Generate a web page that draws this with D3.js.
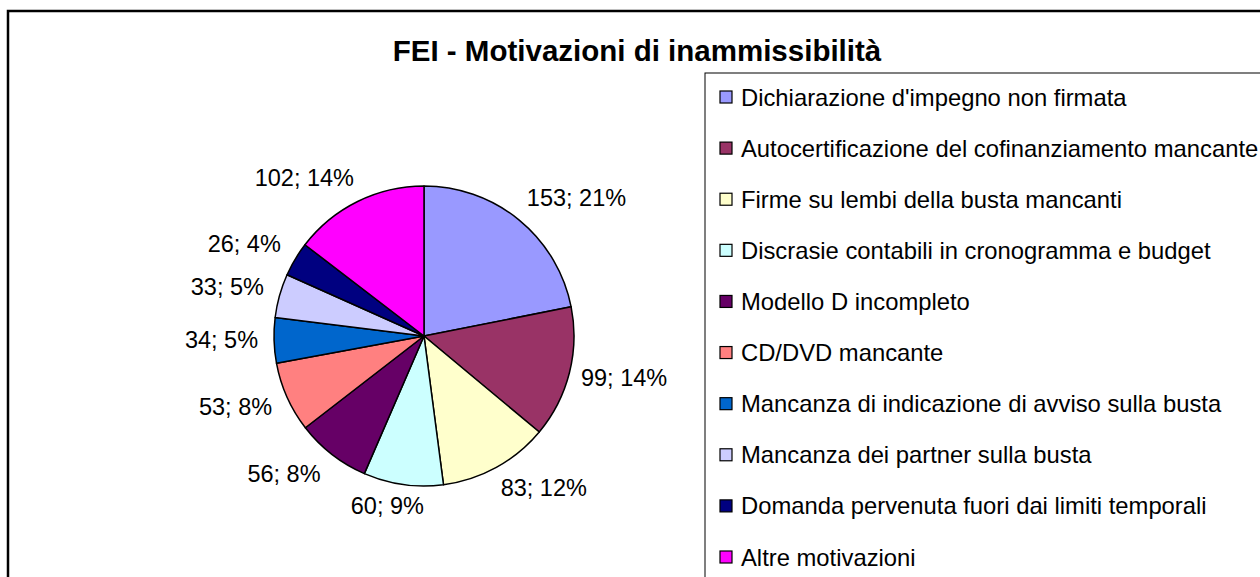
<!DOCTYPE html>
<html>
<head>
<meta charset="utf-8">
<script src="https://cdn.jsdelivr.net/npm/d3@7"></script>
<style>
  body { margin: 0; background: #fff; }
  text { font-family: Arial, "Liberation Sans", sans-serif; }
</style>
</head>
<body>
<div id="chart"></div>
<script>
const categories = [
    "Dichiarazione d'impegno non firmata",
    "Autocertificazione del cofinanziamento mancante",
    "Firme su lembi della busta mancanti",
    "Discrasie contabili in cronogramma e budget",
    "Modello D incompleto",
    "CD/DVD mancante",
    "Mancanza di indicazione di avviso sulla busta",
    "Mancanza dei partner sulla busta",
    "Domanda pervenuta fuori dai limiti temporali",
    "Altre motivazioni"
]
const values = [153, 99, 83, 60, 56, 53, 34, 33, 26, 102]
const percentLabels = ["21%", "14%", "12%", "9%", "8%", "8%", "5%", "5%", "4%", "14%"]
const colors = ["#9999FF", "#993366", "#FFFFCC", "#CCFFFF", "#660066",
                "#FF8080", "#0066CC", "#CCCCFF", "#000080", "#FF00FF"]

const width = 1260, height = 577;

const svg = d3.select("#chart")
  .append("svg")
  .attr("width", width)
  .attr("height", height);

// outer chart frame (runs off the right and bottom edge)
svg.append("rect")
  .attr("x", 8)
  .attr("y", 11)
  .attr("width", 1300)
  .attr("height", 600)
  .style("fill", "white")
  .style("stroke", "black")
  .style("stroke-width", 2.5);

svg.append("text")
  .attr("x", 637)
  .attr("y", 61)
  .attr("text-anchor", "middle")
  .attr("font-size", "29.5px")
  .attr("font-weight", "700")
  .text("FEI - Motivazioni di inammissibilità");

// pie
const cx = 424, cy = 336, r = 150;

const pie = d3.pie().sort(null).value(d => d.value);
const arcs = pie(values.map((v, i) => ({ value: v, i: i })));
const arc = d3.arc().innerRadius(0).outerRadius(r);

const g = svg.append("g").attr("transform", `translate(${cx},${cy})`);

g.selectAll("path")
  .data(arcs)
  .enter()
  .append("path")
    .attr("d", arc)
    .style("fill", d => colors[d.data.i])
    .style("stroke", "black")
    .style("stroke-width", 1.5)
    .style("stroke-linejoin", "round");

// data labels, placed outside the pie like Excel does
const labelFont = 23.5;
const clamp = v => Math.max(-1, Math.min(1, v));

arcs.forEach(d => {
    const a = (d.startAngle + d.endAngle) / 2;
    const off = r + 12;
    const px = Math.sin(a) * off + (Math.sin(a) < 0 ? -4 : 0);
    const py = -Math.cos(a) * off;
    const t = g.append("text")
      .attr("font-size", labelFont + "px")
      .text(values[d.data.i] + "; " + percentLabels[d.data.i]);
    const w = t.node().getComputedTextLength();
    const h = labelFont * 0.95;
    const hx = clamp(Math.sin(a) * 2);
    const vy = clamp(Math.cos(a) * 1.3);
    const left = px - w * (1 - hx) / 2;
    const top = py - h * (1 + vy) / 2;
    t.attr("x", left).attr("y", top + h * 0.8);
});

// legend
svg.append("rect")
  .attr("x", 705)
  .attr("y", 73)
  .attr("width", 700)
  .attr("height", 600)
  .style("fill", "white")
  .style("stroke", "black")
  .style("stroke-width", 1);

const ly = d3.scalePoint()
  .domain(categories)
  .range([97, 557]);

const legend = svg.selectAll(".legend")
  .data(categories)
  .enter()
  .append("g")
    .attr("class", "legend")
    .attr("transform", d => `translate(720,${ly(d)})`);

legend.append("rect")
  .attr("x", 0)
  .attr("y", -6)
  .attr("width", 12)
  .attr("height", 12)
  .style("fill", (d, i) => colors[i])
  .style("stroke", "black")
  .style("stroke-width", 1.2);

legend.append("text")
  .attr("x", 21)
  .attr("y", 8.5)
  .attr("font-size", "23.8px")
  .text(d => d);
</script>
</body>
</html>
